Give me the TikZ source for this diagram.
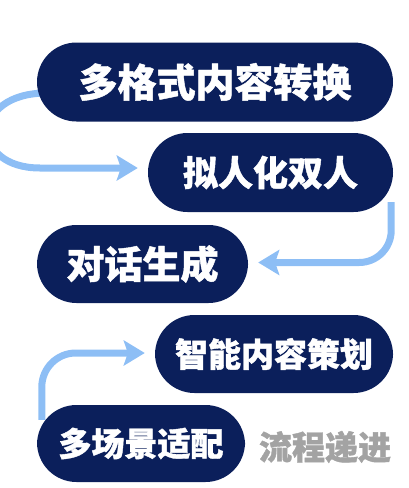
\documentclass[tikz,border=0pt]{standalone}
\usepackage{fontspec}
\newfontfamily\cjk{Noto Sans CJK SC}[BoldFeatures={FakeBold=1.2}]
\usetikzlibrary{arrows.meta,calc}
\pgfdeclarelayer{background}
\pgfsetlayers{background,main}
\definecolor{navy}{HTML}{0B1F5B}
\definecolor{flowblue}{HTML}{8DBEF5}
\definecolor{hintgray}{HTML}{A3A3A3}
\tikzset{
  pill/.style={fill=navy, rounded corners=39.5pt, minimum height=79pt, inner sep=0pt,
    text=white, font=\cjk\bfseries},
  flow/.style={draw=flowblue, line width=7pt,
    -{Stealth[length=21pt,width=25pt,inset=4pt]}},
}
\begin{document}
\begin{tikzpicture}[x=1pt,y=-1pt]
\useasboundingbox (0,0) rectangle (408,488);
\node[pill, minimum width=356pt, font=\cjk\bfseries\fontsize{39}{39}\selectfont] (b1) at (215,82) {多格式内容转换};
\node[pill, minimum width=245pt, font=\cjk\bfseries\fontsize{35}{35}\selectfont] (b2) at (270.5,172.5) {拟人化双人};
\node[pill, minimum width=211pt, minimum height=78pt, font=\cjk\bfseries\fontsize{38}{38}\selectfont] (b3) at (142.5,264) {对话生成};
\node[pill, minimum width=238pt, minimum height=78pt, font=\cjk\bfseries\fontsize{33}{33}\selectfont] (b4) at (274,354) {智能内容策划};
\node[pill, minimum width=208pt, minimum height=77pt, font=\cjk\bfseries\fontsize{33}{33}\selectfont] (b5) at (141,443.5) {多场景适配};
\node[text=hintgray, font=\cjk\bfseries\fontsize{33}{33}\selectfont, inner sep=0pt] (lbl) at (325,447) {流程递进};
\begin{pgfonlayer}{background}
\coordinate (t1) at ($(b2.west)+(-10,-4.5)$);
\coordinate (t2) at ($(b3.east)+(10,-1.5)$);
\coordinate (t3) at ($(b4.west)+(-10,-1)$);
\draw[flow] ($(b1.west)+(10,11)$) .. controls (-30,93) and (-30,168) .. (40,168) -- (t1);
\draw[flow, rounded corners=32pt] ($(b2.south east)+(-2,-10)$) |- (t2);
\draw[flow, rounded corners=34pt] ($(b5.north west)+(5,15)$) |- (t3);
\end{pgfonlayer}
\end{tikzpicture}
\end{document}
